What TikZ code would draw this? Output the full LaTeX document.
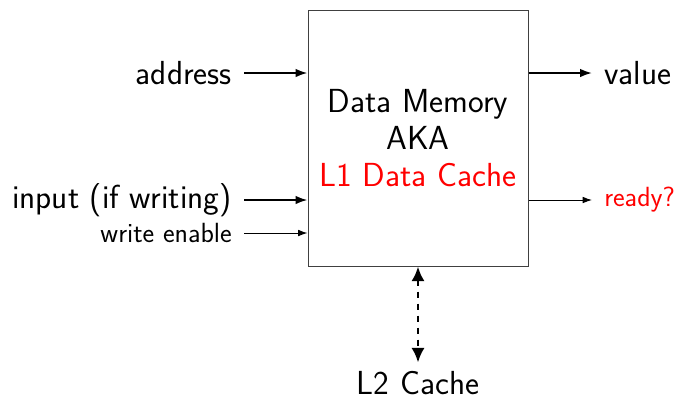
\documentclass[tikz,border=0pt]{standalone}
\usepackage{tikz}
\usetikzlibrary{arrows.meta,positioning}
\tikzset{
  bigtext/.style={font=\sffamily\fontsize{25}{28}\selectfont},
  smalltext/.style={font=\sffamily\fontsize{20.8}{23}\selectfont},
  sidelabel/.style={inner xsep=9pt},
  membox/.style={draw=black!75, line width=0.75pt, minimum width=165pt,
                 minimum height=192pt, align=center, bigtext},
  bigwire/.style={line width=1.5pt, -{Latex[length=9pt,width=6.5pt]}},
  smallwire/.style={line width=0.75pt, -{Latex[length=7pt,width=5pt]}},
  cachelink/.style={line width=2.2pt, dash pattern=on 5pt off 4pt, shorten >=3pt,
                    {Latex[length=11pt,width=10pt]}-{Latex[length=11pt,width=10pt]}}
}
\begin{document}
\begin{tikzpicture}[x=0.75pt,y=-0.75pt]
  \useasboundingbox (0,0) rectangle (680,401);
  \node[membox] (mem) at (418,138) {Data Memory\\AKA\\\textcolor{red}{L1 Data Cache}};

  % inputs
  \node[bigtext, sidelabel, anchor=east] (addr) at (244,73) {address};
  \node[bigtext, sidelabel, anchor=east] (inp) at (244,200) {input (if writing)};
  \node[smalltext, sidelabel, anchor=east] (we) at (244,233) {write enable};
  % outputs
  \node[bigtext, sidelabel, anchor=west] (val) at (592,73) {value};
  \node[smalltext, sidelabel, anchor=west, text=red] (rdy) at (592,200) {ready?};
  \node[bigtext] (l2) at (418,383) {L2 Cache};

  \draw[bigwire] (addr.east) -- (addr.east -| mem.west);
  \draw[bigwire] (inp.east) -- (inp.east -| mem.west);
  \draw[smallwire] (we.east) -- (we.east -| mem.west);
  \draw[bigwire] (mem.east |- val.west) -- (val.west);
  \draw[smallwire] (mem.east |- rdy.west) -- (rdy.west);
  \draw[cachelink] (mem.south) -- (l2.north);
\end{tikzpicture}
\end{document}
